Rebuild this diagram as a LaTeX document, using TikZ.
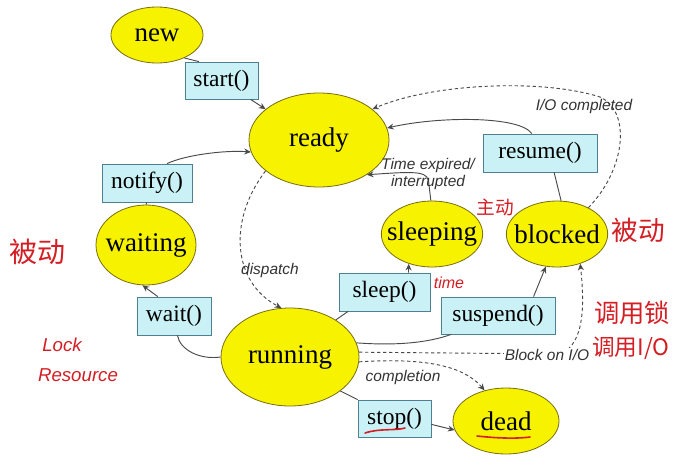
\documentclass[tikz,border=0pt]{standalone}
\usepackage{fontspec}
\setmainfont{Liberation Serif}
\newfontfamily\labfont{Liberation Sans}
\newfontfamily\cjkfont{Noto Sans CJK SC}
\usetikzlibrary{arrows.meta,shapes.geometric}
\definecolor{stfill}{HTML}{F7F200}
\definecolor{stdraw}{HTML}{7A6E10}
\definecolor{bxfill}{HTML}{C9F1F6}
\definecolor{bxdraw}{HTML}{4D8090}
\definecolor{lnc}{HTML}{4A4A4A}
\definecolor{pen}{HTML}{D41E24}
\tikzset{
  stnode/.style={ellipse, fill=stfill, draw=stdraw, line width=0.6pt, inner sep=0pt},
  sttext/.style={font=\fontsize{20.25}{24}\selectfont, inner sep=0pt},
  bxnode/.style={rectangle, fill=bxfill, draw=bxdraw, line width=0.6pt, inner sep=0pt,
    font=\fontsize{17.6}{21}\selectfont},
  conn/.style={draw=lnc, line width=0.7pt},
  arr/.style={conn, -{Stealth[length=5pt,width=4.5pt]}},
  darr/.style={arr, dashed, dash pattern=on 2.5pt off 2pt},
  lab/.style={font=\labfont\itshape\fontsize{11.6}{13}\selectfont, text=black!80, inner sep=1pt},
  hand/.style={text=pen, inner sep=0pt},
  handcjk/.style={hand, font=\cjkfont\fontsize{20}{22}\selectfont},
  handlat/.style={hand, font=\labfont\itshape\fontsize{14}{16}\selectfont},
}
\begin{document}
\begin{tikzpicture}[x=0.75pt,y=-0.75pt]
\useasboundingbox (0,0) rectangle (684,464);
\fill[white] (0,0) rectangle (684,464);

% states
\node[stnode, minimum width=69pt, minimum height=42pt, label={[sttext]center:new}] (new) at (157,35) {};
\node[stnode, minimum width=105pt, minimum height=70.5pt, label={[sttext]center:ready}] (ready) at (319,140) {};
\node[stnode, minimum width=75pt, minimum height=60pt, label={[sttext]center:waiting}] (waiting) at (146,245) {};
\node[stnode, minimum width=103.5pt, minimum height=73.5pt, label={[sttext]center:running}] (running) at (290,357) {};
\node[stnode, minimum width=76pt, minimum height=49.5pt, label={[sttext]center:sleeping}] (sleeping) at (432,234) {};
\node[stnode, minimum width=76pt, minimum height=49.5pt, label={[sttext]center:blocked}] (blocked) at (557,234) {};
\node[stnode, minimum width=79.5pt, minimum height=49.5pt, label={[sttext]center:dead}] (dead) at (506,421) {};

% method boxes
\node[bxnode, minimum width=54.75pt, minimum height=27.75pt] (start) at (221.5,80.5) {start()};
\node[bxnode, minimum width=67.5pt, minimum height=28.5pt] (notify) at (147,183) {notify()};
\node[bxnode, minimum width=55.5pt, minimum height=28.5pt] (wait) at (174,316) {wait()};
\node[bxnode, minimum width=68.25pt, minimum height=28.5pt] (sleep) at (384.5,292) {sleep()};
\node[bxnode, minimum width=85.5pt, minimum height=27.75pt] (suspend) at (498,315.5) {suspend()};
\node[bxnode, minimum width=85.5pt, minimum height=28.5pt] (resume) at (540,153) {resume()};
\node[bxnode, minimum width=54.75pt, minimum height=27.75pt] (stop) at (394.5,418.5) {stop()};

% solid transitions
\draw[conn] (new.-40) -- (start.140);
\draw[arr] (start.-33) -- (ready.150);
\draw[conn] (waiting.north) -- (notify.south);
\draw[arr] (notify.44) .. controls (185,155) and (225,150) .. (ready.190);
\draw[conn] (running.180) .. controls (200,360) and (180,350) .. (wait.-80);
\draw[arr] (wait.130) -- (waiting.-95);
\draw[conn] (running.39) -- (sleep.208);
\draw[arr] (sleep.39) -- (sleeping.232);
\draw[conn] (running.12) .. controls (400,346) and (430,342) .. (suspend.202);
\draw[arr] (suspend.28) -- (blocked.251);
\draw[conn] (blocked.83) -- (resume.-54);
\draw[arr] (resume.113) .. controls (520,116) and (440,116) .. (ready.10);
\draw[arr] (sleeping.92) -- (429,185) .. controls (429,171) and (420,171) .. (ready.-36);
\draw[conn] (running.-34) -- (stop.north west);
\draw[arr] (stop.-9) -- (dead.190);

% dashed transitions
\draw[darr] (blocked.40) .. controls (625,170) and (632,112) .. (600,97)
   .. controls (540,78) and (430,84) .. (ready.30);
\draw[darr] (ready.210) .. controls (228,220) and (232,282) .. (running.100);
\draw[darr] (running.4) -- (560,354) .. controls (586,344) and (584,300) .. (blocked.-52);
\draw[darr] (running.-4) .. controls (420,358) and (462,364) .. (dead.125);

% transition labels
\node[lab] (lio) at (584,106) {I/O completed};
\node[lab, align=center] (lte) at (428,174) {Time expired/\\interrupted};
\node[lab] (ldis) at (270,270) {dispatch};
\node[lab, fill=white] (lblk) at (547,355) {Block on I/O};
\node[lab] (lcomp) at (403,377) {completion};

% handwritten annotations
\node[handcjk, font=\cjkfont\fontsize{21}{22}\selectfont] (h1) at (37,252) {被动};
\node[handlat] (h2) at (62,345) {Lock};
\node[handlat] (h3) at (78,375) {Resource};
\node[handcjk, font=\cjkfont\fontsize{14}{15}\selectfont] (h4) at (495,207) {主动};
\node[handcjk] (h5) at (638,230) {被动};
\node[handlat, font=\labfont\itshape\fontsize{12}{14}\selectfont] (h6) at (449,283) {time};
\node[handcjk, font=\cjkfont\fontsize{19}{20}\selectfont] (h7) at (632,313) {调用锁};
\node[handcjk, font=\cjkfont\fontsize{17}{18}\selectfont] (h8) at (631,348) {调用I/O};
\draw[pen, line width=1.2pt, line cap=round] (365,433) .. controls (380,428) and (395,431) .. (405,428);
\draw[pen, line width=1.2pt, line cap=round] (477,436) .. controls (495,438) and (515,439) .. (530,437);
\end{tikzpicture}
\end{document}
